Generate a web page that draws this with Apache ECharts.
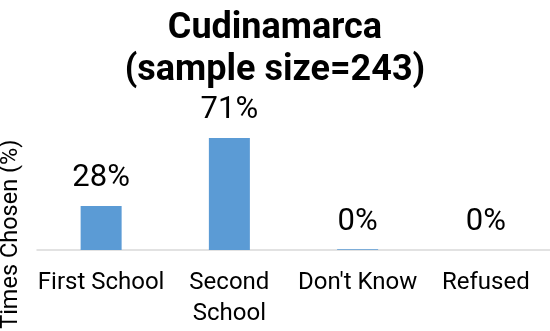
<!DOCTYPE html>
<html>
<head>
<meta charset="utf-8">
<script src="https://cdn.jsdelivr.net/npm/echarts@6/dist/echarts.min.js"></script>
<style>
  html, body { margin: 0; padding: 0; background: #fff; }
  #chart { width: 550px; height: 331px; }
</style>
</head>
<body>
<div id="chart"></div>
<script>
// Share of respondents choosing each option (percent)
const categories = ['First School', 'Second\nSchool', "Don't Know", 'Refused'];
const shares = [27.98, 71.19, 0.41, 0];
const chartTitle = 'Cudinamarca\n(sample size=243)';
const yAxisTitle = 'Times Chosen (%)';

const chart = echarts.init(document.getElementById('chart'), null, { renderer: 'canvas' });
const font = 'Roboto';

chart.setOption({
  animation: false,
  title: {
    text: chartTitle,
    left: 'center',
    top: 3,
    textStyle: {
      fontFamily: font,
      fontWeight: 'bold',
      fontSize: 36,
      lineHeight: 42,
      color: '#000'
    }
  },
  grid: { left: 37, right: 0, top: 92.5, bottom: 81, containLabel: false, outerBoundsMode: 'none' },
  xAxis: {
    type: 'category',
    data: categories,
    axisLine: { lineStyle: { color: '#D9D9D9', width: 1.5 } },
    axisTick: { show: false },
    axisLabel: {
      fontFamily: font,
      fontSize: 24,
      lineHeight: 31,
      color: '#000',
      margin: 17,
      interval: 0
    }
  },
  yAxis: {
    type: 'value',
    min: 0,
    max: 100,
    name: yAxisTitle,
    nameLocation: 'middle',
    nameGap: 14,
    nameRotate: 90,
    nameTextStyle: {
      fontFamily: font,
      fontSize: 23.5,
      color: '#000',
      padding: [0, 126, 0, 0]
    },
    axisLine: { show: false },
    axisTick: { show: false },
    axisLabel: { show: false },
    splitLine: { show: false }
  },
  series: [{
    type: 'bar',
    data: shares,
    barWidth: 41,
    itemStyle: { color: '#5B9BD5' },
    label: {
      show: true,
      position: 'top',
      distance: 12,
      fontFamily: font,
      fontSize: 31,
      color: '#000',
      formatter: p => Math.round(p.value) + '%'
    }
  }]
});
</script>
</body>
</html>
